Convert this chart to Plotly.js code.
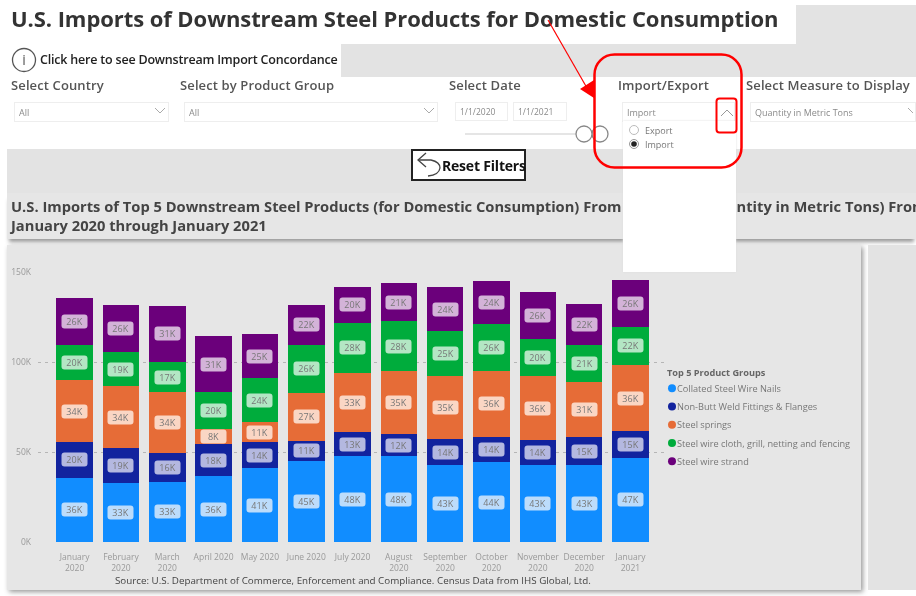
<!DOCTYPE html>
<html><head><meta charset="utf-8">
<script src="https://cdn.plot.ly/plotly-3.0.1.min.js"></script>
<style>
html,body{margin:0;padding:0;background:#fff;width:916px;height:596px;overflow:hidden;font-family:"Open Sans",sans-serif}
body{filter:blur(0.35px)}
.b{position:absolute;box-sizing:border-box}
.t{position:absolute;white-space:nowrap;line-height:1}
.lab{font-size:13px;font-weight:600;color:#555;top:79px;letter-spacing:.12px}
.box{background:#fff;border:1px solid #eee;height:20px;top:102px;font-size:9px;color:#8a8a8a;padding:5px 0 0 4px;line-height:1}
#plot{position:absolute;left:0;top:0;width:916px;height:596px;z-index:2}
</style></head><body>
<div class="b" style="left:796px;top:5px;width:120px;height:40px;background:#e3e3e3"></div>
<div class="b" style="left:341px;top:44px;width:575px;height:33px;background:#e3e3e3"></div>
<div class="b" style="left:7px;top:149px;width:909px;height:44px;background:#e3e3e3"></div>
<div class="b" style="left:7px;top:193px;width:909px;height:46px;background:#e6e6e6;box-shadow:0 5px 4px -2px #999"></div>
<div class="b" style="left:7px;top:245px;width:854px;height:345px;background:#e6e6e6;box-shadow:2px 2px 5px #999"></div>
<div class="b" style="left:868px;top:245px;width:48px;height:345px;background:#e3e3e3"></div>
<div class="t" style="left:11px;top:7px;font-size:22px;font-weight:700;color:#333;letter-spacing:-.07px">U.S. Imports of Downstream Steel Products for Domestic Consumption</div>
<div class="t" style="left:40px;top:54px;font-size:12.5px;font-weight:600;color:#222;letter-spacing:-.2px">Click here to see Downstream Import Concordance</div>
<div class="t lab" style="left:11px">Select Country</div>
<div class="t lab" style="left:180px">Select by Product Group</div>
<div class="t lab" style="left:449px">Select Date</div>
<div class="t lab" style="left:618px">Import/Export</div>
<div class="t lab" style="left:746px">Select Measure to Display</div>
<div class="b box" style="left:14px;width:155px">All</div>
<div class="b box" style="left:184px;width:254px">All</div>
<div class="b box" style="left:455px;width:53px;height:19px;font-size:8.5px">1/1/2020</div>
<div class="b box" style="left:513px;width:54px;height:19px;font-size:8.5px">1/1/2021</div>
<div class="b box" style="left:622px;width:113px">Import</div>
<div class="b box" style="left:750px;width:166px">Quantity in Metric Tons</div>
<div class="b" style="left:411px;top:149px;width:115px;height:32px;background:#fff;border:2px solid #222"></div>
<div id="plot"></div>
<div class="b" style="left:623px;top:121px;width:113px;height:151px;background:#fff;box-shadow:0 0 2px #ddd;z-index:3"></div>
<div class="t" style="left:442px;top:159px;font-size:14px;font-weight:700;color:#111;z-index:4;letter-spacing:-.2px">Reset Filters</div>
<div class="t" style="left:645px;top:126px;font-size:9px;color:#777;z-index:4">Export</div>
<div class="t" style="left:645px;top:140px;font-size:9px;color:#777;z-index:4">Import</div>
<svg width="916" height="596" style="position:absolute;left:0;top:0;z-index:5" fill="none">
<circle cx="24" cy="60" r="11.5" stroke="#555" stroke-width="1.3"/>
<text x="24" y="65" font-size="14" fill="#555" text-anchor="middle" font-family="Open Sans">i</text>
<path d="M155 108l5 5l5-5M424 108l5 5l5-5M908 108l5 5" stroke="#aaa"/>
<path d="M721 116l6-6l6 6" stroke="#999"/>
<line x1="465" y1="134" x2="580" y2="134" stroke="#ddd" stroke-width="1.5"/>
<circle cx="600" cy="134" r="8" fill="#fff" stroke="#888" stroke-width="1.3"/>
<circle cx="584" cy="134" r="8" fill="#fff" stroke="#888" stroke-width="1.3"/>
<circle cx="634" cy="130" r="4.5" fill="#fff" stroke="#bbb"/>
<circle cx="634" cy="144" r="4.5" fill="#fff" stroke="#999"/>
<circle cx="634" cy="144" r="2.8" fill="#222"/>
<path d="M418 160H431Q440 162 440 168Q439 175 428 176" stroke="#444" stroke-width="1.3"/>
<path d="M426 153L418 160L426 167" stroke="#444" stroke-width="1.3"/>
<rect x="594.500" y="54.500" width="147" height="113" rx="20" stroke="#f00" stroke-width="2.500"/>
<rect x="716.500" y="98.500" width="20" height="34" rx="3" stroke="#f00" stroke-width="2"/>
<line x1="548" y1="20" x2="587" y2="88" stroke="#f00" stroke-width="1.200"/>
<path d="M580 89L594 80L594 98Z" fill="#f00"/>
</svg>
<script>
var categories = ["January<br>2020","February<br>2020","March<br>2020","April 2020","May 2020","June 2020","July 2020","August<br>2020","September<br>2020","October<br>2020","November<br>2020","December<br>2020","January<br>2021"];
var seriesNames = ["Collated Steel Wire Nails","Non-Butt Weld Fittings & Flanges","Steel springs","Steel wire cloth, grill, netting and fencing","Steel wire strand"];
var seriesColors = ["#118DFF","#12239E","#E66C37","#00AC3C","#6B007B"];
var labelColors = ["#bcdcfb","#b4b8e0","#fad6c4","#b3e6c4","#d3b3d8"];
var nails = [35.8,32.9,33.4,36.4,41.0,44.9,47.7,47.7,42.9,44.4,42.9,42.7,46.8];
var fittings = [19.7,19.1,16.1,18.2,14.4,11.4,13.4,12.3,14.1,14.1,13.5,15.4,15.0];
var springs = [34.4,34.4,33.8,8.1,11.3,26.7,33.0,34.9,35.4,36.4,36.0,30.6,36.4];
var cloth = [19.7,18.9,16.7,20.4,24.2,26.4,27.8,27.7,24.7,26.4,20.4,21.0,21.5];
var strand = [26.2,26.4,31.2,31.2,24.7,22.4,20.0,21.2,24.4,23.8,26.3,22.4,26.0];
var series = [nails,fittings,springs,cloth,strand];

var traces = [], annotations = [], base = categories.map(function(){return 0;});
series.forEach(function(vals,i){
  traces.push({type:"bar",x:categories,y:vals,name:seriesNames[i],marker:{color:seriesColors[i]},showlegend:false,hoverinfo:"x+y"});
  vals.forEach(function(v,j){
    annotations.push({x:categories[j],y:base[j]+v/2,xref:"x",yref:"y",text:Math.round(v)+"K",showarrow:false,
      bgcolor:labelColors[i],width:25,height:13,borderpad:0,font:{family:"Open Sans",size:9,color:"#777"}});
    base[j]+=v;
  });
});
series.forEach(function(vals,i){
  traces.push({type:"scatter",mode:"markers",x:[null],y:[null],name:seriesNames[i],marker:{color:seriesColors[i],size:8,symbol:"circle"}});
});
var layout = {
  width:916,height:596,autosize:false,paper_bgcolor:"rgba(0,0,0,0)",plot_bgcolor:"rgba(0,0,0,0)",
  margin:{l:38.3,r:248,t:272.3,b:54.3,pad:0},barmode:"stack",bargap:0.21,
  title:{text:"U.S. Imports of Top 5 Downstream Steel Products (for Domestic Consumption) From the World (Quantity in Metric Tons) From<br>January 2020 through January 2021",
    font:{family:"Open Sans",size:14.7,weight:700,color:"#444"},x:11/916,xanchor:"left",y:1-212/596,yanchor:"middle",xref:"container",yref:"container"},
  xaxis:{type:"category",categoryorder:"array",categoryarray:categories,range:[-0.79,12.81],showgrid:false,zeroline:false,showline:false,
    tickfont:{family:"Open Sans",size:8.5,color:"#999"},ticks:"",tickangle:0,ticklabelstandoff:8},
  yaxis:{range:[0,150],tickvals:[0,50,100,150],ticktext:["0K","50K","100K","150K"],zeroline:false,showline:false,showgrid:true,
    gridcolor:"#b5b5b5",griddash:"3px,4px",gridwidth:1,tickfont:{family:"Open Sans",size:8.5,color:"#999"},ticks:"",ticklabelstandoff:6},
  legend:{x:(665-38.3)/629.7,xanchor:"left",y:1-(364-272.3)/269.4,yanchor:"top",bgcolor:"rgba(0,0,0,0)",
    title:{text:"<b>Top 5 Product Groups</b>",font:{family:"Open Sans",size:9.2,color:"#666"}},
    font:{family:"Open Sans",size:9.2,color:"#777"},traceorder:"normal"},
  annotations:annotations.concat([{xref:"paper",yref:"paper",x:(353-38.3)/629.7,y:(596-54.3-580)/269.4,xanchor:"center",yanchor:"middle",showarrow:false,
    text:"Source: U.S. Department of Commerce, Enforcement and Compliance. Census Data from IHS Global, Ltd.",font:{family:"Open Sans",size:9.8,color:"#444"}}])
};
Plotly.newPlot("plot",traces,layout,{displayModeBar:false,staticPlot:true}).then(function(){
  document.querySelectorAll(".annotation rect.bg").forEach(function(r){r.setAttribute("rx",3);r.setAttribute("ry",3);});
  document.querySelectorAll(".legend .legendpoints").forEach(function(n){n.setAttribute("transform","translate(-13,0)");});
  document.querySelectorAll(".legend .legendtext").forEach(function(n){n.setAttribute("x",12);});
  var y0=null;
  document.querySelectorAll(".legend .traces").forEach(function(n,i){
    var m=/translate\(([-\d.]+),\s*([-\d.]+)\)/.exec(n.getAttribute("transform")||"");
    if(!m)return;
    if(y0===null)y0=parseFloat(m[2]);
    n.setAttribute("transform","translate("+m[1]+","+(y0-2+i*18.25)+")");
  });
});
</script>
</body></html>
